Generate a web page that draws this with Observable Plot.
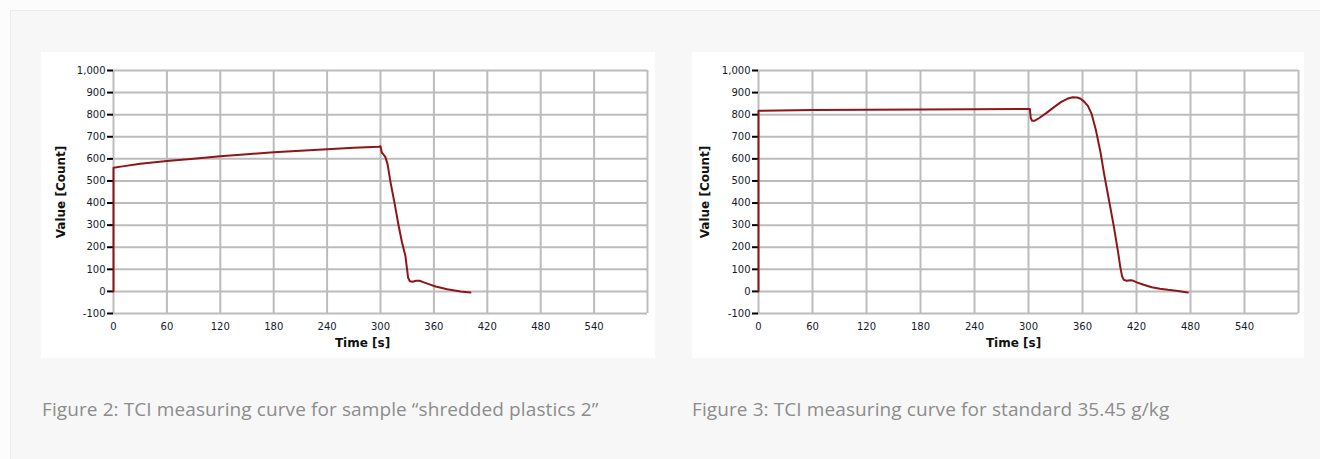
<!DOCTYPE html>
<html>
<head>
<meta charset="utf-8">
<script src="https://cdn.jsdelivr.net/npm/d3@7"></script>
<script src="https://cdn.jsdelivr.net/npm/@observablehq/plot@0.6"></script>
<style>
  html, body { margin: 0; padding: 0; width: 1320px; height: 459px; overflow: hidden; background: #fcfcfc; }
  #page { position: absolute; left: 10px; top: 10px; right: 0; bottom: 0; background: #f7f7f7; border-left: 1px solid #ececec; border-top: 1px solid #ececec; }
  .panel { position: absolute; top: 52px; background: #fff; }
  .caption { position: absolute; top: 396px; font-family: "Open Sans", sans-serif; font-size: 19px; color: #8c8c8c; white-space: nowrap; letter-spacing: 0.1px; }
</style>
</head>
<body>
<div id="page"></div>
<div class="panel" id="p1" style="left:41px"></div>
<div class="panel" id="p2" style="left:692px"></div>
<div class="caption" id="c1" style="left:42px"></div>
<div class="caption" id="c2" style="left:692px"></div>
<script>
// ---- data ----
const captions = [
  "Figure 2: TCI measuring curve for sample \u201Cshredded plastics 2\u201D",
  "Figure 3: TCI measuring curve for standard 35.45 g/kg"
];
const xLabel = "Time [s]";
const yLabel = "Value [Count]";
const xTicks = [0, 60, 120, 180, 240, 300, 360, 420, 480, 540];
const xGrid = [0, 60, 120, 180, 240, 300, 360, 420, 480, 540, 600];
const yTicks = [-100, 0, 100, 200, 300, 400, 500, 600, 700, 800, 900, 1000];
const xDomain = [0, 600];
const yDomain = [-100, 1000];

// Figure 2: shredded plastics 2
const time1 = [0, 0, 10, 30, 60, 90, 120, 150, 180, 210, 240, 270, 298, 300, 301.5, 303, 305.5, 308, 311, 316, 320, 324, 328, 330, 331, 333, 336, 340, 344, 348, 355, 362, 375, 390, 401];
const value1 = [0, 560, 566, 578, 590, 601, 612, 621, 630, 637, 644, 650, 655, 657, 628, 622, 608, 575, 500, 395, 305, 225, 160, 95, 62, 46, 44, 48, 48, 42, 32, 22, 10, 0, -5];

// Figure 3: standard 35.45 g/kg
const time2 = [0, 0, 60, 120, 180, 240, 300, 301.5, 302.5, 304, 307, 312, 320, 328, 336, 343, 349, 354, 358, 362, 366, 370, 375, 380, 384, 390, 395, 400, 402, 404, 406, 409, 413, 416, 421, 428, 437, 446, 455, 466, 477];
const value2 = [0, 818, 821, 822, 823, 825, 826, 826, 785, 772, 773, 785, 808, 833, 857, 872, 879, 878, 872, 858, 840, 805, 728, 630, 532, 400, 290, 165, 110, 68, 52, 48, 51, 49, 40, 30, 19, 12, 7, 2, -5];

const fmt = d3.format(",");
const tickFmt = d => fmt(d).replace("\u2212", "-");

function makeChart(times, values, opts) {
  const data = times.map((t, i) => ({t, v: values[i]}));
  const gridStyle = {stroke: "#bcbcbc", strokeWidth: 2, strokeOpacity: 1};
  return Plot.plot({
    width: opts.width,
    height: 306,
    marginLeft: opts.marginLeft,
    marginRight: opts.marginRight,
    marginTop: 18,
    marginBottom: 45,
    style: {fontFamily: "DejaVu Sans, sans-serif", fontSize: "10px", color: "#141a2c", background: "white"},
    x: {domain: xDomain},
    y: {domain: yDomain},
    marks: [
      Plot.gridX(xGrid, gridStyle),
      Plot.gridY(yTicks, gridStyle),
      Plot.axisY(yTicks, {tickFormat: tickFmt, tickSize: 6, tickPadding: 2, stroke: "#000", strokeWidth: 2, label: null}),
      Plot.axisX(xTicks, {tickSize: 0, tickPadding: 9, label: null}),
      Plot.line(data, {x: "t", y: "v", stroke: "#8e1616", strokeWidth: 2}),
      Plot.text([xLabel], {text: d => d, frameAnchor: "bottom", lineAnchor: "middle", textAnchor: "middle", dy: 30, dx: opts.xLabelDx, fontWeight: "bold", fontSize: 12, fill: "#111"}),
      Plot.text([yLabel], {text: d => d, frameAnchor: "left", rotate: -90, lineAnchor: "middle", textAnchor: "middle", dx: opts.yLabelDx, fontWeight: "bold", fontSize: 12, fill: "#111"})
    ]
  });
}

document.getElementById("p1").append(makeChart(time1, value1, {width: 614, marginLeft: 72, marginRight: 8, xLabelDx: -18, yLabelDx: -52}));
document.getElementById("p2").append(makeChart(time2, value2, {width: 612, marginLeft: 66, marginRight: 6, xLabelDx: -15, yLabelDx: -53}));
document.getElementById("c1").textContent = captions[0];
document.getElementById("c2").textContent = captions[1];
</script>
</body>
</html>
